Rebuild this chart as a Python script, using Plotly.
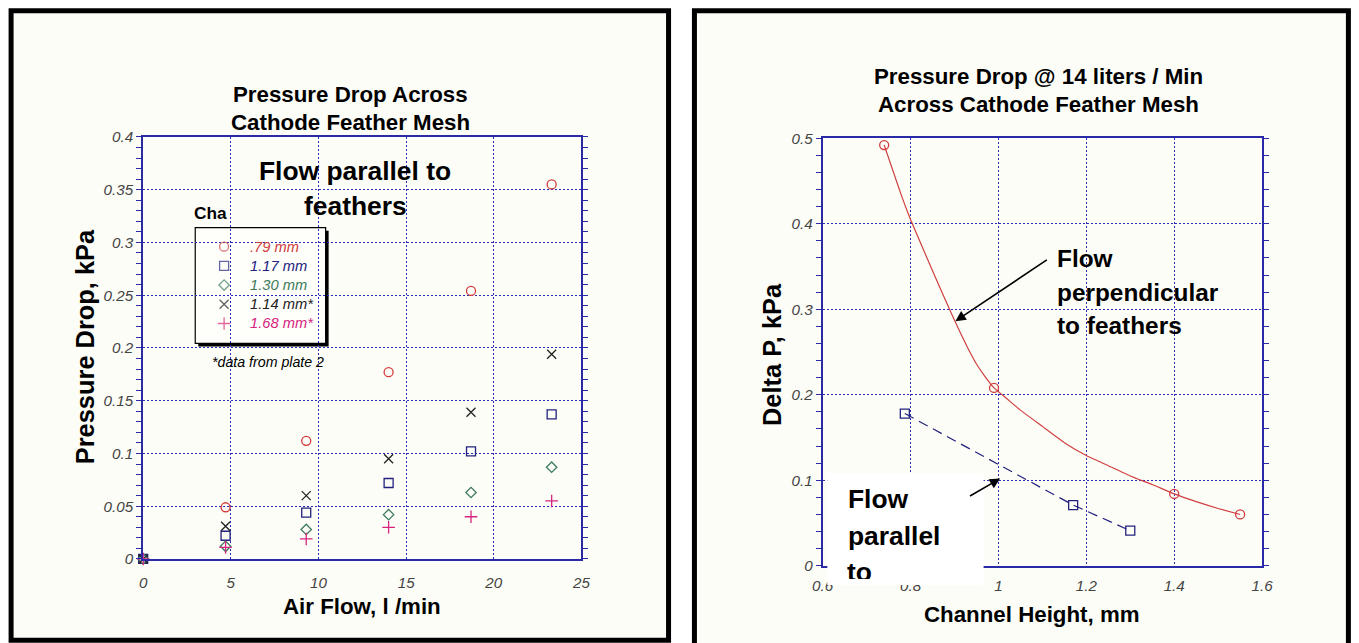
import plotly.graph_objects as go

# Figure size, and the conversion from final picture pixels to figure paper
# coordinates (the page keeps its default 8px body margin and the capture of
# the 1375x659 page is scaled to 1359x643).
W, H = 1359, 643
OFF = 8
SX, SY = 1375 / 1359, 659 / 643
FS = 1.015  # font scale compensating the capture scaling


def px(x):
    return (x * SX - OFF) / W


def py(y):
    return 1 - (y * SY - OFF) / H


def fsz(s):
    return round(s * FS, 1)


# ---- Left chart: pressure drop vs air flow ----
air_flow = [0, 4.7, 9.3, 14.0, 18.7, 23.3]
dp_079 = [0, 0.049, 0.112, 0.177, 0.254, 0.355]
dp_117 = [0, 0.022, 0.044, 0.072, 0.102, 0.137]
dp_130 = [0, 0.012, 0.028, 0.042, 0.063, 0.087]
dp_114 = [0, 0.031, 0.060, 0.095, 0.139, 0.194]
dp_168 = [0, 0.011, 0.019, 0.030, 0.040, 0.055]
left_labels = [".79 mm", "1.17 mm", "1.30 mm", "1.14 mm*", "1.68 mm*"]

# ---- Right chart: pressure drop at 14 l/min vs channel height ----
perp_height = [0.74, 0.99, 1.40, 1.55]
perp_dp = [0.492, 0.208, 0.084, 0.060]
perp_fit_height = [0.74, 0.76, 0.78, 0.80, 0.85, 0.90, 0.93, 0.95, 0.97, 0.99, 1.02,
                   1.05, 1.10, 1.15, 1.20, 1.25, 1.30, 1.35, 1.40, 1.45, 1.50, 1.55]
perp_fit_dp = [0.492, 0.462, 0.432, 0.405, 0.345, 0.287, 0.255, 0.236, 0.221, 0.208, 0.195,
               0.182, 0.163, 0.144, 0.129, 0.117, 0.105, 0.095, 0.084, 0.075, 0.067, 0.060]
par_height = [0.787, 1.17, 1.30]
par_dp = [0.178, 0.071, 0.041]

AXIS = "#2a2aa6"
GRID = "#2a2ab0"
SANS = "Liberation Sans, Arial"
TICKFONT = dict(family=SANS, size=fsz(15), color="#444444", style="italic")
CREAM = "#fdfdf8"

symbols = ["circle-open", "square-open", "diamond-open", "x-thin-open", "cross-thin-open"]
colors = ["#d03a3a", "#22227e", "#3d7a5a", "#222222", "#d6247f"]
msizes = [9, 9, 8, 9, 9]
left_series = [dp_079, dp_117, dp_130, dp_114, dp_168]

fig = go.Figure()

for vals, sym, col, size in zip(left_series, symbols, colors, msizes):
    fig.add_trace(go.Scatter(
        x=air_flow, y=vals, mode="markers", xaxis="x", yaxis="y", showlegend=False,
        marker=dict(symbol=sym, size=size, color=col, line=dict(color=col, width=1.3)),
        cliponaxis=False,
    ))

# legend key symbols, one row per series
fig.add_trace(go.Scatter(
    x=[0.5] * len(left_labels), y=list(range(len(left_labels))), mode="markers",
    xaxis="x3", yaxis="y5", showlegend=False, hoverinfo="skip",
    marker=dict(symbol=symbols, size=msizes, color=colors, line=dict(color=colors, width=1.3)),
))

fig.add_trace(go.Scatter(
    x=perp_fit_height, y=perp_fit_dp, mode="lines", xaxis="x2", yaxis="y2",
    line=dict(color="#d04040", width=1.2, shape="spline", smoothing=0.4),
    showlegend=False,
))
fig.add_trace(go.Scatter(
    x=perp_height, y=perp_dp, mode="markers", xaxis="x2", yaxis="y2",
    marker=dict(symbol="circle-open", size=9, color="#d03a3a", line=dict(color="#d03a3a", width=1.3)),
    showlegend=False, cliponaxis=False,
))
fig.add_trace(go.Scatter(
    x=par_height, y=par_dp, mode="lines+markers", xaxis="x2", yaxis="y2",
    line=dict(color="#22227e", width=1.2, dash="10px,6px"),
    marker=dict(symbol="square-open", size=9, color="#22227e", line=dict(color="#22227e", width=1.3)),
    showlegend=False,
))

left_x = [px(140.7), px(581)]
left_y = [py(559), py(136)]
right_x = [px(823.3), px(1264.8)]
right_y = [py(565.8), py(137.3)]

# legend rows: symbol column at x=222, rows from y=246 to y=323
LEG_ROW0, LEG_STEP = 246, 19.25
leg_rows = [LEG_ROW0 + i * LEG_STEP for i in range(len(left_labels))]

xcommon = dict(showline=True, linecolor=AXIS, linewidth=2, mirror=True, ticks="",
               showgrid=True, gridcolor=GRID, gridwidth=1.4, griddash="2px,2px",
               zeroline=False, tickfont=TICKFONT)
ycommon = dict(showline=True, linecolor=AXIS, linewidth=2, mirror="allticks",
               ticks="outside", ticklen=5, tickwidth=1.4, tickcolor=AXIS,
               showgrid=True, gridcolor=GRID, gridwidth=1.4, griddash="2px,2px",
               zeroline=False, tickfont=TICKFONT)
yinner = dict(showline=False, mirror="allticks", ticks="inside", ticklen=5, tickwidth=1.4,
              tickcolor=AXIS, showgrid=False, zeroline=False, showticklabels=False)

fig.update_layout(
    width=W, height=H,
    margin=dict(l=0, r=0, t=0, b=0),
    paper_bgcolor="white",
    plot_bgcolor="rgba(0,0,0,0)",
    showlegend=False,
    xaxis=dict(domain=left_x, range=[0, 25], dtick=5, anchor="y",
               ticklabelstandoff=9, **xcommon),
    yaxis=dict(domain=left_y, range=[0, 0.4], dtick=0.05, anchor="x",
               minor=dict(dtick=0.01, ticks="outside", ticklen=5, tickwidth=1.4, tickcolor=AXIS, showgrid=False),
               **ycommon),
    yaxis3=dict(overlaying="y", anchor="x", range=[0, 0.4], dtick=0.05,
                minor=dict(dtick=0.01, ticks="inside", ticklen=5, tickwidth=1.4, tickcolor=AXIS, showgrid=False),
                **yinner),
    xaxis2=dict(domain=right_x, range=[0.6, 1.6], dtick=0.2, anchor="y2",
                ticklabelstandoff=5, **xcommon),
    yaxis2=dict(domain=right_y, range=[0, 0.5], dtick=0.1, anchor="x2",
                minor=dict(dtick=0.02, ticks="outside", ticklen=5, tickwidth=1.4, tickcolor=AXIS, showgrid=False),
                **ycommon),
    yaxis4=dict(overlaying="y2", anchor="x2", range=[0, 0.5], dtick=0.1,
                minor=dict(dtick=0.02, ticks="inside", ticklen=5, tickwidth=1.4, tickcolor=AXIS, showgrid=False),
                **yinner),
    # axes holding the legend key symbols
    xaxis3=dict(domain=[px(212), px(232)], range=[0, 1], visible=False, anchor="y5"),
    yaxis5=dict(domain=[py(leg_rows[-1] + LEG_STEP / 2), py(leg_rows[0] - LEG_STEP / 2)],
                range=[len(left_labels) - 0.5, -0.5], visible=False, anchor="x3"),
)

shapes = [
    # panel frames
    dict(type="rect", xref="paper", yref="paper", x0=px(8), x1=px(668.5), y0=py(640.5), y1=py(9.5),
         line=dict(color="black", width=5), fillcolor=CREAM, layer="below"),
    dict(type="rect", xref="paper", yref="paper", x0=px(694.5), x1=px(1351.5), y0=py(660), y1=py(9.5),
         line=dict(color="black", width=5), fillcolor=CREAM, layer="below"),
    # legend box with drop shadow
    dict(type="rect", xref="paper", yref="paper", x0=px(196), x1=px(327), y0=py(346), y1=py(230),
         line=dict(width=0), fillcolor="black", layer="below"),
    dict(type="rect", xref="paper", yref="paper", x0=px(193), x1=px(324), y0=py(343), y1=py(227),
         line=dict(color="black", width=1.2), fillcolor="#fefefb", layer="below"),
    # white label box on the right chart
    dict(type="rect", xref="paper", yref="paper", x0=px(828), x1=px(985), y0=py(585), y1=py(473),
         line=dict(width=0), fillcolor="white", layer="above"),
]
fig.update_layout(shapes=shapes)


def text(x, y, s, size, xanchor="center", yanchor="middle", color="black",
         textangle=0, italic=False, **kw):
    font = dict(family=SANS, size=fsz(size), color=color)
    if italic:
        font["style"] = "italic"
    fig.add_annotation(x=px(x), y=py(y), xref="paper", yref="paper", text=s, showarrow=False,
                       xanchor=xanchor, yanchor=yanchor, font=font, textangle=textangle, **kw)


# legend labels
for label, col, ry in zip(left_labels, colors, leg_rows):
    text(246, ry, label, 14.5, xanchor="left", color=col, italic=True)

# left chart texts
text(349, 93, "<b>Pressure Drop Across</b>", 22)
text(349, 122, "<b>Cathode Feather Mesh</b>", 22)
text(354, 170, "<b>Flow parallel to</b>", 26)
text(354, 205, "<b>feathers</b>", 26)
text(190, 212, "<b>Cha</b>", 17, xanchor="left")
text(208, 362, "*data from plate 2", 14, xanchor="left", italic=True)
text(361, 607, "<b>Air Flow, l /min</b>", 22)
text(83, 346, "<b>Pressure Drop, kPa</b>", 25, textangle=-90)

# right chart texts
text(1040, 75, "<b>Pressure Drop @ 14 liters / Min</b>", 22)
text(1040, 104, "<b>Across Cathode Feather Mesh</b>", 22)
text(1034, 615, "<b>Channel Height, mm</b>", 22)
text(773, 354, "<b>Delta P, kPa</b>", 25, textangle=-90)
text(1057, 258, "<b>Flow</b>", 24, xanchor="left")
text(1057, 292, "<b>perpendicular</b>", 24, xanchor="left")
text(1057, 325, "<b>to feathers</b>", 24, xanchor="left")
text(847, 499, "<b>Flow</b>", 26, xanchor="left")
text(847, 536, "<b>parallel</b>", 26, xanchor="left")
text(847, 556, "<b>to</b>", 26, xanchor="left", yanchor="top", height=22, valign="top", borderpad=0)

# arrows
fig.add_annotation(x=0.902, y=0.286, ax=1.1135, ay=0.3588, xref="x2", yref="y2", axref="x2", ayref="y2",
                   text="", showarrow=True, arrowhead=2, arrowsize=1.3, arrowwidth=1.6, arrowcolor="black")
fig.add_annotation(x=1.004, y=0.102, ax=0.932, ay=0.0805, xref="x2", yref="y2", axref="x2", ayref="y2",
                   text="", showarrow=True, arrowhead=2, arrowsize=1.3, arrowwidth=1.6, arrowcolor="black")

fig.write_html("out.html")
